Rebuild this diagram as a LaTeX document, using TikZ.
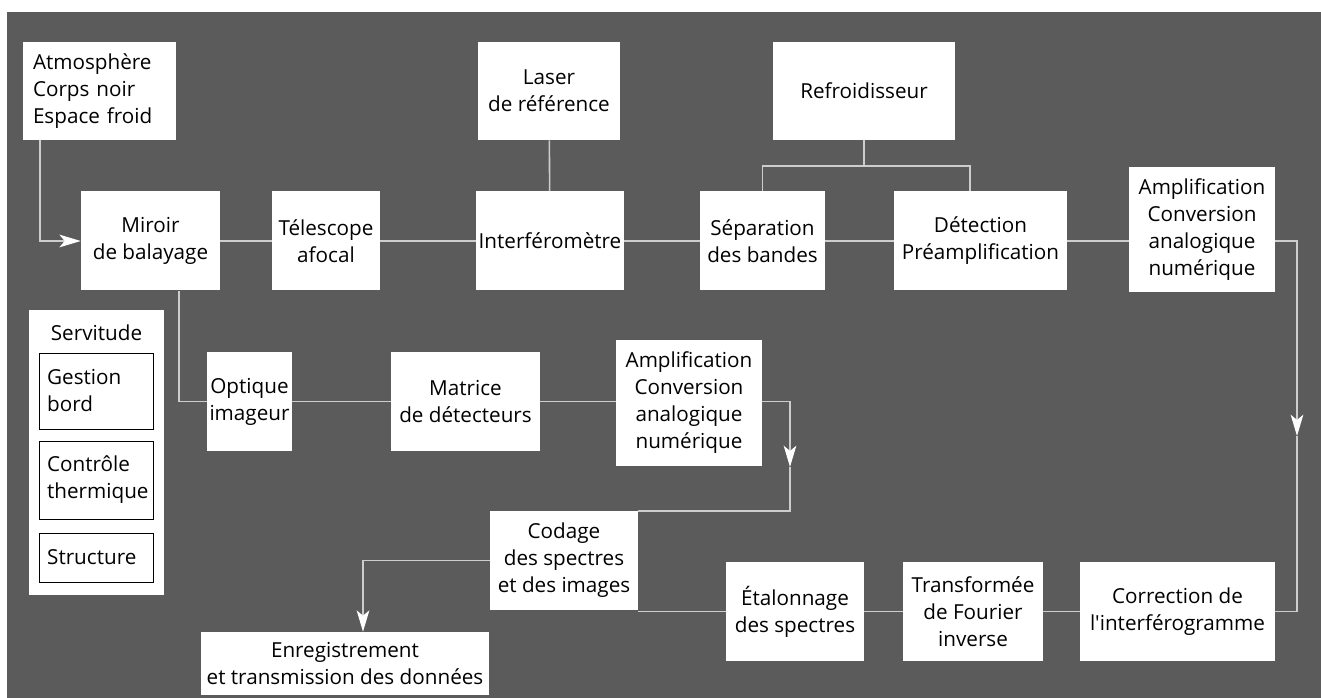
\documentclass[tikz,border=0pt]{standalone}
\usepackage{fontspec}
\newfontfamily\diagfont{Open Sans}
\usetikzlibrary{arrows.meta,positioning}
\definecolor{bggray}{RGB}{91,91,91}
\definecolor{wiregray}{RGB}{205,205,205}

\begin{document}
    \begin{tikzpicture}[x=0.75pt, y=-0.75pt,
        font=\diagfont\fontsize{15.5}{20.25}\selectfont,
        block/.style={rectangle, fill=white, align=center, inner sep=2pt, minimum height=74.25pt},
        subbox/.style={rectangle, fill=white, draw=black, line width=0.6pt, text width=74pt, inner xsep=6pt, align=left},
        wire/.style={draw=wiregray, line width=1.2pt},
        flow/.style={wire, -{Stealth[length=16pt, width=9.5pt, inset=4pt, color=white]}}]

        \fill[white] (0,0) rectangle (1321,698);
        \fill[bggray] (7,12) rectangle (1321,698);
        \useasboundingbox (0,0) rectangle (1321,698);

        % top row
        \node [block, text width=99.75pt, inner xsep=7.5pt, minimum height=73.5pt, align=left] (atm) at (99.5,91) {Atmosphère\\Corps noir\\Espace froid};
        \node [block, minimum width=106.5pt, minimum height=73.5pt] (laser) at (549,91) {Laser\\de référence};
        \node [block, minimum width=136.5pt, minimum height=73.5pt] (cool) at (864,91) {Refroidisseur};

        % optical chain
        \node [block, minimum width=104.25pt] (mirror) at (150.5,241) {Miroir\\de balayage};
        \node [block, minimum width=81pt] (tele) at (326,241) {Télescope\\afocal};
        \node [block, minimum width=111pt] (interf) at (550,241) {Interféromètre};
        \node [block, minimum width=93.75pt] (bands) at (762.5,241) {Séparation\\des bandes};
        \node [block, minimum width=129.75pt] (detect) at (980.5,241) {Détection\\Préamplification};
        \node [block, minimum width=109.5pt, minimum height=93.75pt] (adcA) at (1202,229.5) {Amplification\\Conversion\\analogique\\numérique};

        % servitude
        \node [block, minimum width=101.25pt, minimum height=213.75pt] (serv) at (96.5,452.5) {};
        \node (servlbl) at (96.5,333) {Servitude};
        \node [subbox, minimum height=57pt] (board) at (96.5,391) {Gestion\\bord};
        \node [subbox, minimum height=58.5pt] (therm) at (96.5,480) {Contrôle\\thermique};
        \node [subbox, minimum height=36.75pt] (struct) at (96.5,557.5) {Structure};

        % imaging chain
        \node [block, minimum width=60.75pt] (imgopt) at (249.5,401.5) {Optique\\imageur};
        \node [block, minimum width=111.75pt] (matrix) at (465.5,401.5) {Matrice\\de détecteurs};
        \node [block, minimum width=109.5pt, minimum height=94.5pt] (adcB) at (689,403) {Amplification\\Conversion\\analogique\\numérique};
        \node [block, minimum width=111pt] (coding) at (564,560.5) {Codage\\des spectres\\et des images};
        \node [block, minimum width=216pt, minimum height=47.25pt] (record) at (345,663.5) {Enregistrement\\et transmission des données};

        % spectral processing
        \node [block, minimum width=103.5pt] (calib) at (795,611.5) {Étalonnage\\des spectres};
        \node [block, minimum width=105pt] (fourier) at (973,611.5) {Transformée\\de Fourier\\inverse};
        \node [block, minimum width=146.25pt] (corr) at (1177.5,611.5) {Correction de\\l'interférogramme};

        \coordinate (cooldrop) at (970,166);
        \coordinate (rtip) at (1297,436);
        \coordinate (mtip) at (790,467);

        \draw [flow] ([xshift=12.75pt]atm.south west) |- (mirror.west);
        \draw [wire] (mirror) -- (tele);
        \draw [wire] (tele) -- (interf);
        \draw [wire] (laser) -- (interf);
        \draw [wire] (interf) -- (bands);
        \draw [wire] (bands) -- (detect);
        \draw [wire] (cool.south) -- (cool.south |- cooldrop);
        \draw [wire] (bands.north) |- (cooldrop) -- (cooldrop |- detect.north);
        \draw [wire] (detect.east) -- (detect.east -| adcA.west);
        \draw [flow] (adcA.east |- detect.east) -| (rtip);
        \draw [wire] (rtip) |- (corr.east);
        \draw [wire] (corr) -- (fourier);
        \draw [wire] (fourier) -- (calib);
        \draw [wire] (calib.west) -- (calib.west -| coding.east);

        \draw [wire] ([xshift=21.4pt]mirror.south) |- (imgopt.west);
        \draw [wire] (imgopt) -- (matrix);
        \draw [wire] (matrix.east) -- (matrix.east -| adcB.west);
        \draw [flow] (adcB.east |- matrix.east) -| (mtip);
        \draw [wire] (mtip) |- (coding.north east);
        \draw [flow] (coding.west) -| ([xshift=13.5pt]record.north);
    \end{tikzpicture}
\end{document}
